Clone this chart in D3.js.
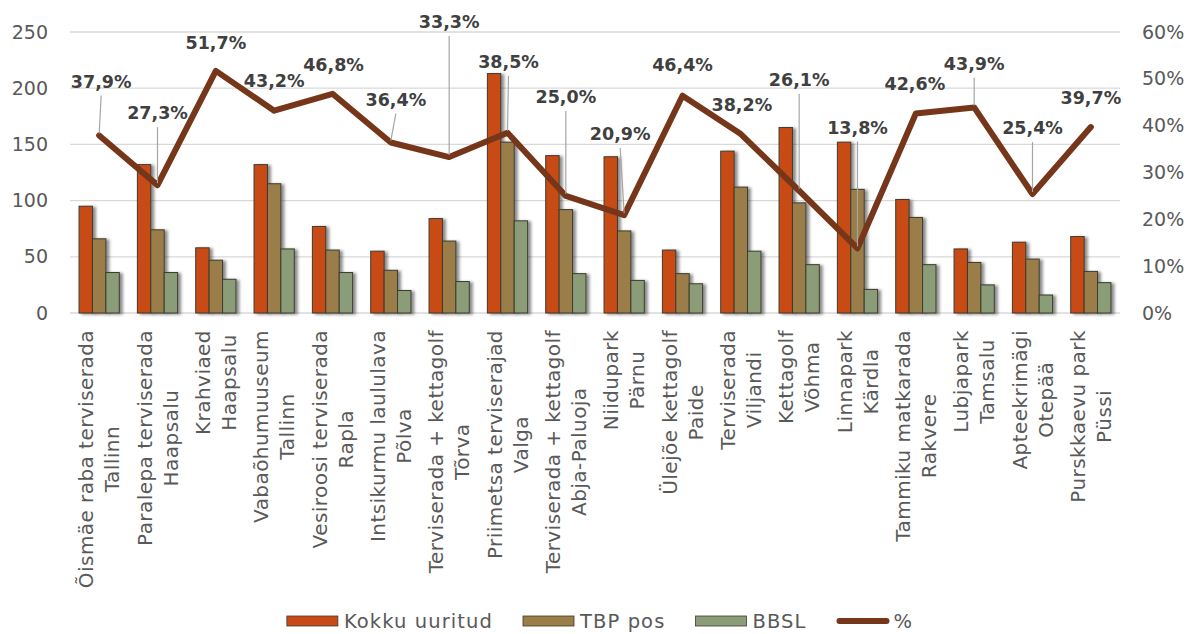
<!DOCTYPE html>
<html>
<head>
<meta charset="utf-8">
<script src="https://cdn.jsdelivr.net/npm/d3@7"></script>
<style>
  html, body { margin: 0; padding: 0; background: #fff; }
  svg { display: block; }
  text { font-family: "DejaVu Sans", sans-serif; }
</style>
</head>
<body>
<svg id="chart" width="1190" height="634"></svg>
<script>
// Site names (first label line) and towns (second label line)
const siteNames = [
  "Õismäe raba terviserada", "Paralepa terviserada", "Krahviaed", "Vabaõhumuuseum",
  "Vesiroosi terviserada", "Intsikurmu laululava", "Terviserada + kettagolf",
  "Priimetsa terviserajad", "Terviserada + kettagolf", "Niidupark", "Ülejõe kettagolf",
  "Terviserada", "Kettagolf", "Linnapark", "Tammiku matkarada", "Lubjapark",
  "Apteekrimägi", "Purskkaevu park"
];
const towns = [
  "Tallinn", "Haapsalu", "Haapsalu", "Tallinn", "Rapla", "Põlva", "Tõrva", "Valga",
  "Abja-Paluoja", "Pärnu", "Paide", "Viljandi", "Võhma", "Kärdla", "Rakvere",
  "Tamsalu", "Otepää", "Püssi"
];

// Counts per site
const kokkuUuritud = [95, 132, 58, 132, 77, 55, 84, 213, 140, 139, 56, 144, 165, 152, 101, 57, 63, 68];
const tbpPos       = [66, 74, 47, 115, 56, 38, 64, 152, 92, 73, 35, 112, 98, 110, 85, 45, 48, 37];
const bbsl         = [36, 36, 30, 57, 36, 20, 28, 82, 35, 29, 26, 55, 43, 21, 43, 25, 16, 27];
// Share in percent (right axis)
const percent = [37.9, 27.3, 51.7, 43.2, 46.8, 36.4, 33.3, 38.5, 25.0, 20.9, 46.4, 38.2, 26.1, 13.8, 42.6, 43.9, 25.4, 39.7];

// Axis ticks
const leftTicks = [0, 50, 100, 150, 200, 250];
const rightTicks = [0, 0.1, 0.2, 0.3, 0.4, 0.5, 0.6];

// Series definitions
const seriesNames = ["Kokku uuritud", "TBP pos", "BBSL"];
const seriesValues = [kokkuUuritud, tbpPos, bbsl];
const seriesColors = ["#c84b17", "#9b7d48", "#8a9c78"];
const lineName = "%";
const lineColor = "#76361a";

// Data label placement: [dx, dy] pixel shift of each label from its point
const labelShift = [
  [2, -54], [0, -72], [0, -28], [0, -30], [1, -29], [5, -43], [0, -135], [1, -71], [0, -99],
  [-4, -81], [0, -31], [1, -29], [0, -111], [0, -121], [-1, -30], [0, -44], [0, -66], [0, -29]
];

const svg = d3.select("#chart");
const margin = { left: 70, right: 1120, top: 32, bottom: 313 };

const x = d3.scaleBand().domain(d3.range(siteNames.length)).range([margin.left, margin.right]);
const bw = x.bandwidth();
const xInner = d3.scaleBand().domain(d3.range(seriesNames.length))
  .range([bw * 0.155, bw * 0.845]);
const yL = d3.scaleLinear().domain([0, 250]).range([margin.bottom, margin.top]);
const yR = d3.scaleLinear().domain([0, 0.6]).range([margin.bottom, margin.top]);

// Soft shadow for the columns
const defs = svg.append("defs");
const f = defs.append("filter").attr("id", "barShadow")
  .attr("x", "-30%").attr("y", "-10%").attr("width", "180%").attr("height", "130%");
f.append("feDropShadow").attr("dx", 3).attr("dy", 1).attr("stdDeviation", 1.8)
  .attr("flood-color", "#000").attr("flood-opacity", 0.45);

// Gridlines
svg.append("g").selectAll("line").data(leftTicks).join("line")
  .attr("x1", margin.left).attr("x2", margin.right)
  .attr("y1", d => yL(d)).attr("y2", d => yL(d))
  .attr("stroke", "#d9d9d9").attr("stroke-width", 1.3);

// Left axis
const leftAxis = svg.append("g").attr("transform", `translate(${margin.left - 20},0)`)
  .call(d3.axisLeft(yL).tickValues(leftTicks).tickSize(0).tickPadding(2));
leftAxis.select(".domain").remove();
leftAxis.selectAll("text").attr("font-size", 19).attr("fill", "#595959")
  .attr("font-family", "DejaVu Sans");

// Right axis
const rightAxis = svg.append("g").attr("transform", `translate(${margin.right + 20},0)`)
  .call(d3.axisRight(yR).tickValues(rightTicks).tickSize(0).tickPadding(2)
    .tickFormat(d => Math.round(d * 100) + "%"));
rightAxis.select(".domain").remove();
rightAxis.selectAll("text").attr("font-size", 19).attr("fill", "#595959")
  .attr("font-family", "DejaVu Sans");

// Columns
const groups = svg.append("g").selectAll("g").data(d3.range(siteNames.length)).join("g")
  .attr("transform", i => `translate(${x(i)},0)`);
groups.selectAll("rect").data(i => seriesValues.map((vals, s) => ({ s, v: vals[i] })))
  .join("rect")
  .attr("x", d => xInner(d.s))
  .attr("width", xInner.bandwidth())
  .attr("y", d => yL(d.v))
  .attr("height", d => yL(0) - yL(d.v))
  .attr("fill", d => seriesColors[d.s])
  .attr("stroke", "#3d3b2e").attr("stroke-width", 1)
  .attr("filter", "url(#barShadow)");

// Percentage line
const cx = i => x(i) + bw / 2;
const line = d3.line().x((d, i) => cx(i)).y(d => yR(d / 100));
svg.append("path").datum(percent)
  .attr("d", line)
  .attr("fill", "none").attr("stroke", lineColor).attr("stroke-width", 6)
  .attr("stroke-linejoin", "round").attr("stroke-linecap", "round");

// Data labels with leader lines
const fmt = v => v.toFixed(1).replace(".", ",") + "%";
const lab = svg.append("g");
percent.forEach((p, i) => {
  const px = cx(i), py = yR(p / 100);
  const lx = px + labelShift[i][0], ly = py + labelShift[i][1];
  if (py - ly > 40) {
    lab.append("line")
      .attr("x1", lx).attr("y1", ly + 14)
      .attr("x2", px).attr("y2", py - 2)
      .attr("stroke", "#a6a6a6").attr("stroke-width", 1.2);
  }
  lab.append("text")
    .attr("x", lx).attr("y", ly)
    .attr("dy", "0.36em")
    .attr("text-anchor", "middle")
    .attr("font-size", 17.5).attr("font-weight", "bold")
    .attr("fill", "#404040")
    .text(fmt(p));
});

// Category labels: rotated, two centred lines, hanging below the axis
const catLabels = svg.append("g");
siteNames.forEach((name, i) => {
  const g = catLabels.append("g");
  const lines = [name, towns[i]];
  const texts = lines.map((t, k) => g.append("text")
    .attr("text-anchor", "middle")
    .attr("dy", "0.35em")
    .attr("y", (k - (lines.length - 1) / 2) * 26)
    .attr("font-size", 20).attr("letter-spacing", 0.45)
    .attr("fill", "#595959")
    .text(t));
  const maxLen = d3.max(texts, t => t.node().getComputedTextLength());
  texts.forEach(t => t.attr("x", -maxLen / 2));
  g.attr("transform", `translate(${cx(i)},${margin.bottom + 17}) rotate(-90)`);
});

// Legend
const legend = svg.append("g");
const legendY = 621;
const items = seriesNames.map((n, s) => ({ name: n, color: seriesColors[s], type: "rect" }))
  .concat([{ name: lineName, color: lineColor, type: "line" }]);
let lxPos = 0;
items.forEach(it => {
  const g = legend.append("g").attr("transform", `translate(${lxPos},0)`);
  if (it.type === "rect") {
    g.append("rect").attr("x", 0).attr("y", legendY - 5).attr("width", 51).attr("height", 10)
      .attr("fill", it.color).attr("stroke", "#3d3b2e").attr("stroke-width", 0.8);
  } else {
    g.append("line").attr("x1", 3).attr("x2", 50).attr("y1", legendY).attr("y2", legendY)
      .attr("stroke", it.color).attr("stroke-width", 6).attr("stroke-linecap", "round");
  }
  const t = g.append("text").attr("x", 57).attr("y", legendY).attr("dy", "0.36em")
    .attr("font-size", 19.5).attr("letter-spacing", 1.1).attr("fill", "#595959").text(it.name);
  lxPos += 57 + t.node().getComputedTextLength() + 30;
});
const legendWidth = lxPos - 30;
legend.attr("transform", `translate(${600 - legendWidth / 2},0)`);
</script>
</body>
</html>
